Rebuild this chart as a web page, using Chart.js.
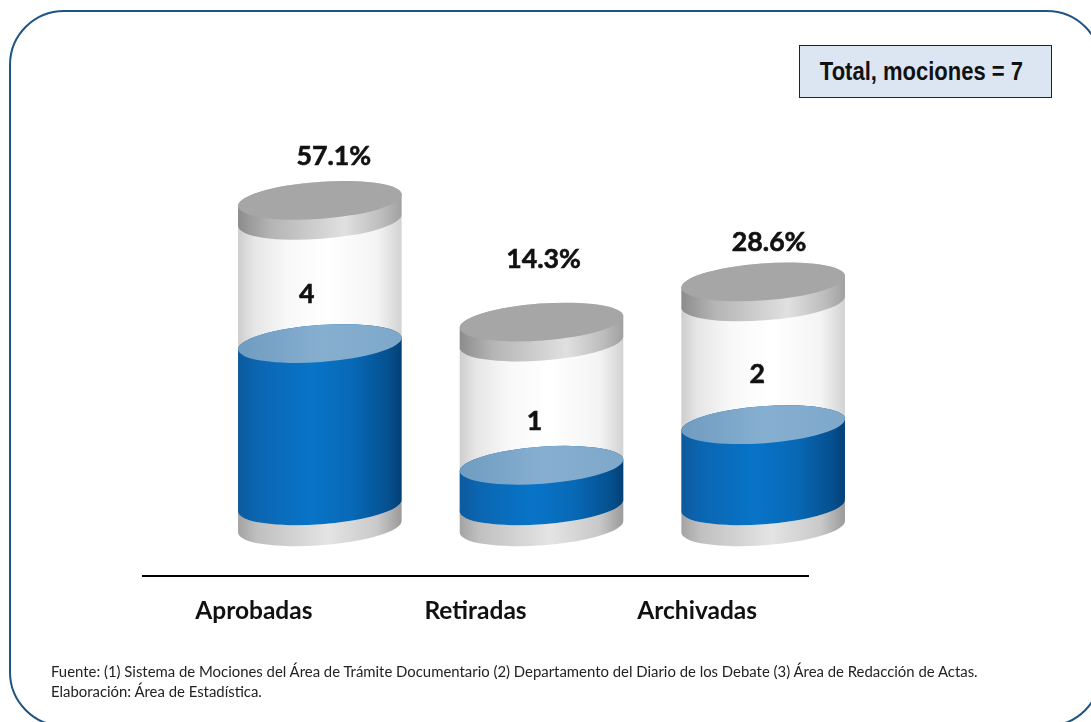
<!DOCTYPE html>
<html lang="es">
<head>
<meta charset="utf-8">
<title>Mociones</title>
<script src="https://cdn.jsdelivr.net/npm/chart.js@4/dist/chart.umd.min.js"></script>
<style>
  html,body{margin:0;padding:0;background:#fff;width:1091px;height:722px;overflow:hidden;}
  #frame{position:absolute;left:9px;top:10px;width:1089px;height:713px;border:2.5px solid #1f5583;border-radius:55px;}
  #chart{position:absolute;left:0;top:0;}
  #total{position:absolute;left:799px;top:45px;width:243px;height:51px;padding-right:8px;text-align:center;
    background:#dce6f2;border:1px solid #222;font:bold 25px/51px "Liberation Sans",sans-serif;color:#111;}
  #total span{display:inline-block;white-space:nowrap;transform:scaleX(.88);}
  #source{position:absolute;left:51px;top:661px;font:14.9px/20px Lato,sans-serif;color:#222;white-space:nowrap;}
</style>
</head>
<body>
<div id="frame"></div>
<canvas id="chart" width="1091" height="722"></canvas>
<div id="total"><span>Total, mociones = 7</span></div>
<div id="source">Fuente: (1) Sistema de Mociones del Área de Trámite Documentario (2) Departamento del Diario de los Debate (3) Área de Redacción de Actas.<br>Elaboración: Área de Estadística.</div>
<script>
// Datos
const categories = ["Aprobadas","Retiradas","Archivadas"];
const mociones = [4,1,2];
const percents = [57.1,14.3,28.6];
const glassLevels = [7.53,4.53,5.52];   // altura del cilindro de vidrio, en mociones

// Ajustes de dibujo
const cylShift = 66;                 // cilindros corridos a la derecha de su etiqueta
const tilt = -4.2*Math.PI/180;
const minorAxis = 18.5;
const pctOffset = [[14,-44],[2,-63],[6,-39]];
const countOffset = [[-13,-49],[-7,-44],[-6,-50]];

function tube(ctx,x,a,y1,y2){
  ctx.beginPath();
  ctx.ellipse(x,y2,a,minorAxis,tilt,Math.PI,0,true);
  ctx.ellipse(x,y1,a,minorAxis,tilt,0,Math.PI,true);
  ctx.closePath();
}
function disc(ctx,x,a,y){
  ctx.beginPath();
  ctx.ellipse(x,y,a,minorAxis,tilt,0,Math.PI*2);
  ctx.closePath();
}
function grad(ctx,x,a,stops){
  const g = ctx.createLinearGradient(x-a,0,x+a,0);
  stops.forEach(s=>g.addColorStop(s[0],s[1]));
  return g;
}
function label(ctx,text,x,y){
  ctx.strokeText(text,x,y);
  ctx.fillText(text,x,y);
}

const cylinders = {
  id:'cylinders',
  afterDatasetsDraw(chart){
    const ctx = chart.ctx;
    const y = chart.scales.y;
    chart.getDatasetMeta(0).data.forEach((bar,i)=>{
      const x = bar.x+cylShift;
      const a = bar.width/2;
      const base = y.getPixelForValue(0);
      const level = bar.y;
      const cap = y.getPixelForValue(glassLevels[i]);

      ctx.save();
      // aro inferior
      tube(ctx,x,a,base,base+21);
      ctx.fillStyle = grad(ctx,x,a,[[0,'#a3a3a3'],[.12,'#c0c0c0'],[.55,'#e4e4e4'],[.85,'#c9c9c9'],[1,'#9a9a9a']]);
      ctx.fill();
      // vidrio
      tube(ctx,x,a,cap+20,base);
      ctx.fillStyle = grad(ctx,x,a,[[0,'#cdcdcd'],[.1,'#e6e6e6'],[.3,'#f8f8f8'],[.55,'#ffffff'],[.85,'#f4f4f4'],[1,'#d2d2d2']]);
      ctx.fill();
      // agua
      tube(ctx,x,a,level,base);
      ctx.fillStyle = grad(ctx,x,a,[[0,'#0d5a9c'],[.12,'#0b66b2'],[.45,'#0874c8'],[.7,'#0869b6'],[.92,'#05508f'],[1,'#043f76']]);
      ctx.fill();
      disc(ctx,x,a,level);
      ctx.fillStyle = grad(ctx,x,a,[[0,'#6f9cc0'],[.5,'#86aecf'],[1,'#7ea8ca']]);
      ctx.fill();
      // tapa
      tube(ctx,x,a,cap,cap+20);
      ctx.fillStyle = grad(ctx,x,a,[[0,'#8c8c8c'],[.2,'#b4b4b4'],[.65,'#e0e0e0'],[.88,'#bcbcbc'],[1,'#a0a0a0']]);
      ctx.fill();
      disc(ctx,x,a,cap);
      ctx.fillStyle = '#a6a6a6';
      ctx.fill();

      // etiquetas
      ctx.fillStyle = '#111';
      ctx.strokeStyle = '#111';
      ctx.lineWidth = .6;
      ctx.textAlign = 'center';
      ctx.textBaseline = 'middle';
      ctx.font = 'bold 26.7px Lato, sans-serif';
      label(ctx,percents[i].toFixed(1)+'%',x+pctOffset[i][0],cap+pctOffset[i][1]);
      label(ctx,String(mociones[i]),x+countOffset[i][0],level+countOffset[i][1]);
      ctx.restore();
    });
  }
};

new Chart(document.getElementById('chart').getContext('2d'),{
  type:'bar',
  data:{
    labels:categories,
    datasets:[{
      data:mociones,
      backgroundColor:'rgba(0,0,0,0)',
      barPercentage:.74,
      categoryPercentage:1
    }]
  },
  options:{
    responsive:false,
    animation:false,
    layout:{padding:{left:143,right:283,top:161,bottom:0}},
    plugins:{legend:{display:false},title:{display:false},tooltip:{enabled:false}},
    scales:{
      x:{
        grid:{display:false,drawTicks:false},
        border:{display:true,color:'#000',width:2},
        ticks:{color:'#111',font:{family:'Lato',size:24.5,weight:'bold'},padding:20,maxRotation:0,autoSkip:false},
        afterFit(s){ s.height = 146; }
      },
      y:{display:false,min:-1.73,max:8.5}
    }
  },
  plugins:[cylinders]
});
</script>
</body>
</html>
